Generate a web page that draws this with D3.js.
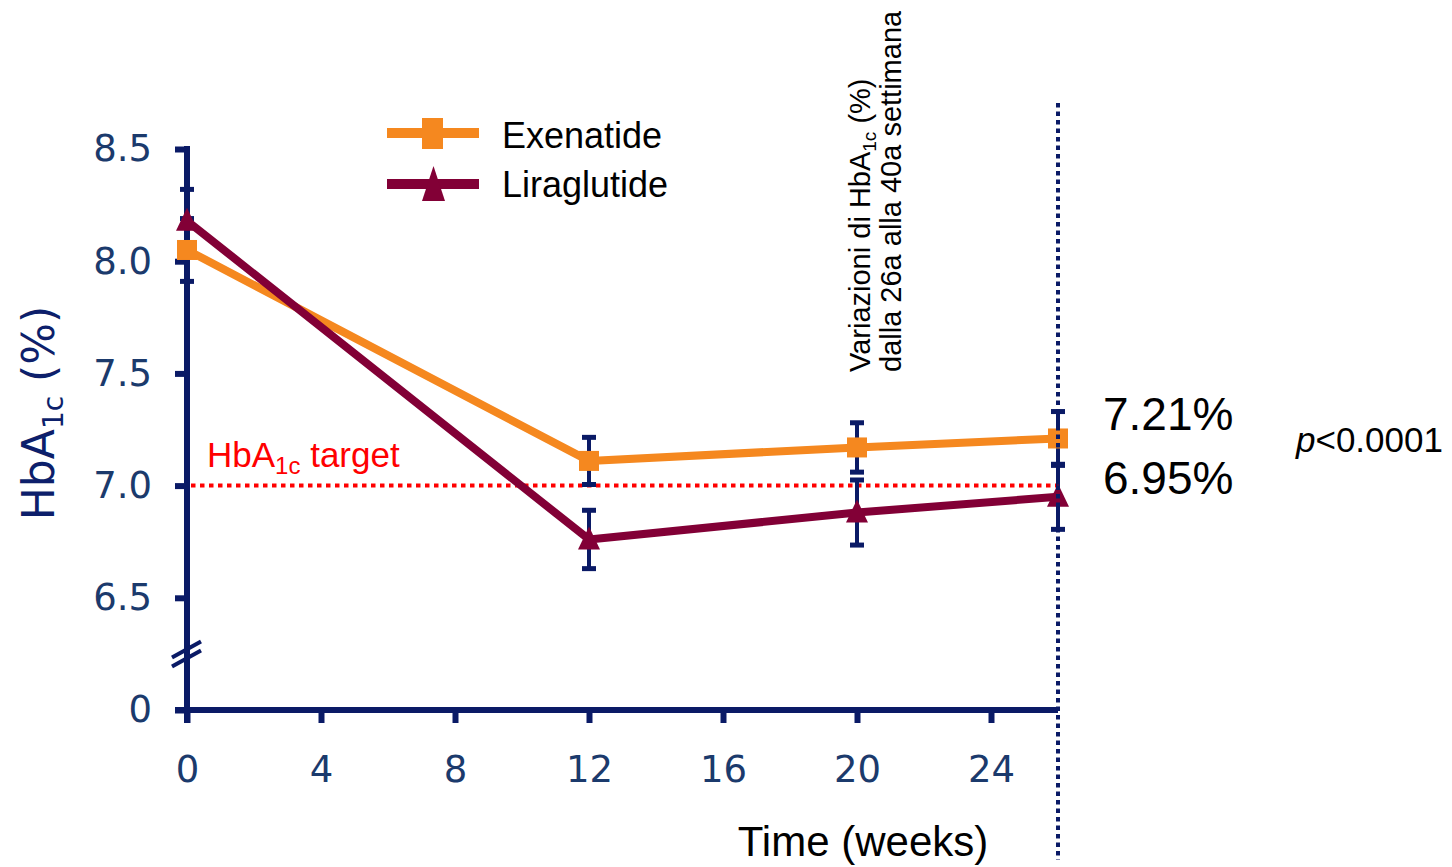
<!DOCTYPE html>
<html>
<head>
<meta charset="utf-8">
<script src="https://cdn.jsdelivr.net/npm/d3@7"></script>
<style>
  html, body { margin: 0; padding: 0; background: #fff; }
  svg { display: block; }
</style>
</head>
<body>
<svg id="chart" width="1452" height="867"></svg>
<script>
// HbA1c over time, exenatide vs liraglutide
const weeks = [0, 12, 20, 26];
const exenatide = [8.05, 7.11, 7.17, 7.21];
const exenatideErr = [0.14, 0.105, 0.11, 0.12];
const liraglutide = [8.18, 6.76, 6.88, 6.95];
const liraglutideErr = [0.14, 0.13, 0.145, 0.145];

const xTicks = [0, 4, 8, 12, 16, 20, 24];
const yTicks = [6.0, 6.5, 7.0, 7.5, 8.0, 8.5];
const yTickLabels = ["0", "6.5", "7.0", "7.5", "8.0", "8.5"];
const targetValue = 7.0;
const seriesNames = ["Exenatide", "Liraglutide"];

const NAVY = "#0a1a66";
const TICK_TEXT = "#1b3a6c";
const ORANGE = "#f5881f";
const MAROON = "#820036";
const RED = "#ff0000";

const svg = d3.select("#chart");

const x = d3.scaleLinear().domain([0, 26]).range([187, 1058]);
const y = d3.scaleLinear().domain([6.0, 8.5]).range([710, 149]);

// ---- axes ----
const yAxis = d3.axisLeft(y)
  .tickValues(yTicks)
  .tickSize(12)
  .tickSizeOuter(0)
  .tickPadding(23)
  .tickFormat((d, i) => yTickLabels[i]);

const gy = svg.append("g").attr("transform", `translate(${x(0)},0)`).call(yAxis);
gy.select(".domain").remove();
gy.selectAll(".tick line").attr("stroke", NAVY).attr("stroke-width", 6);
gy.selectAll(".tick text")
  .attr("fill", TICK_TEXT)
  .style("font-family", "'DejaVu Sans', Verdana, sans-serif")
  .style("font-size", "37px");

const xAxis = d3.axisBottom(x)
  .tickValues(xTicks)
  .tickSize(13)
  .tickSizeOuter(0)
  .tickFormat(d3.format("d"));

const gx = svg.append("g").attr("transform", `translate(0,${y(6.0)})`).call(xAxis);
gx.select(".domain").remove();
gx.selectAll(".tick line").attr("stroke", NAVY).attr("stroke-width", 6);
gx.selectAll(".tick text")
  .attr("y", 72).attr("dy", 0)
  .attr("fill", TICK_TEXT)
  .style("font-family", "'DejaVu Sans', Verdana, sans-serif")
  .style("font-size", "37px");

// axis lines
svg.append("line")
  .attr("x1", x(0)).attr("x2", x(0))
  .attr("y1", y(8.5) - 3).attr("y2", y(6.0) + 13)
  .attr("stroke", NAVY).attr("stroke-width", 6);
svg.append("line")
  .attr("x1", x(0) - 12).attr("x2", x(26))
  .attr("y1", y(6.0)).attr("y2", y(6.0))
  .attr("stroke", NAVY).attr("stroke-width", 6);

// axis break marks between 6.5 and 0
const breakY = (y(6.5) + y(6.0)) / 2;
[-4.5, 4.5].forEach(off => {
  svg.append("line")
    .attr("x1", x(0) - 15).attr("y1", breakY + off + 8)
    .attr("x2", x(0) + 14).attr("y2", breakY + off - 8)
    .attr("stroke", NAVY).attr("stroke-width", 4);
});

// axis titles
const yTitle = svg.append("text")
  .attr("transform", `translate(54,${413}) rotate(-90)`)
  .attr("text-anchor", "middle")
  .attr("fill", "#0d1f6b")
  .style("font-family", "'DejaVu Sans', Verdana, sans-serif")
  .style("font-size", "44px");
yTitle.append("tspan").text("HbA");
yTitle.append("tspan").attr("dy", 9).style("font-size", "28px").text("1c");
yTitle.append("tspan").attr("dy", -9).text(" (%)");

svg.append("text")
  .attr("x", 863).attr("y", 856)
  .attr("text-anchor", "middle")
  .attr("fill", "#000")
  .style("font-family", "'Liberation Sans', Arial, sans-serif")
  .style("font-size", "42px")
  .text("Time (weeks)");

// ---- target line ----
svg.append("line")
  .attr("x1", x(0) + 4).attr("x2", x(26))
  .attr("y1", y(targetValue)).attr("y2", y(targetValue))
  .attr("stroke", RED).attr("stroke-width", 4)
  .attr("stroke-dasharray", "4.5,4.5");

const tgt = svg.append("text")
  .attr("x", 207).attr("y", 467)
  .attr("fill", RED)
  .style("font-family", "'Liberation Sans', Arial, sans-serif")
  .style("font-size", "35px");
tgt.append("tspan").text("HbA");
tgt.append("tspan").attr("dy", 7).style("font-size", "24px").text("1c");
tgt.append("tspan").attr("dy", -7).text(" target");

// ---- error bars ----
function errorBars(vals, errs) {
  const g = svg.append("g");
  weeks.forEach((w, i) => {
    const cx = x(w);
    const top = y(vals[i] + errs[i]);
    const bot = y(vals[i] - errs[i]);
    g.append("line").attr("x1", cx).attr("x2", cx).attr("y1", top).attr("y2", bot)
      .attr("stroke", NAVY).attr("stroke-width", 4);
    [top, bot].forEach(cy => {
      g.append("line").attr("x1", cx - 7).attr("x2", cx + 7).attr("y1", cy).attr("y2", cy)
        .attr("stroke", NAVY).attr("stroke-width", 5);
    });
  });
}
errorBars(exenatide, exenatideErr);
errorBars(liraglutide, liraglutideErr);

// ---- series lines ----
const line = d3.line().x((d, i) => x(weeks[i])).y(d => y(d));

svg.append("path").datum(exenatide)
  .attr("d", line).attr("fill", "none")
  .attr("stroke", ORANGE).attr("stroke-width", 8).attr("stroke-linejoin", "round");
svg.append("path").datum(liraglutide)
  .attr("d", line).attr("fill", "none")
  .attr("stroke", MAROON).attr("stroke-width", 8).attr("stroke-linejoin", "round");

// markers
svg.append("g").selectAll("rect").data(exenatide).join("rect")
  .attr("x", (d, i) => x(weeks[i]) - 10)
  .attr("y", d => y(d) - 10)
  .attr("width", 20).attr("height", 20)
  .attr("fill", ORANGE);

const tri = "M0,-13L11,10L-11,10Z";
svg.append("g").selectAll("path").data(liraglutide).join("path")
  .attr("transform", (d, i) => `translate(${x(weeks[i])},${y(d)})`)
  .attr("d", tri)
  .attr("fill", MAROON);

// ---- week 26 reference line ----
svg.append("line")
  .attr("x1", x(26)).attr("x2", x(26))
  .attr("y1", 103).attr("y2", 860)
  .attr("stroke", NAVY).attr("stroke-width", 4)
  .attr("stroke-dasharray", "4.5,4");

// rotated annotation
const ann1 = svg.append("text")
  .attr("transform", "translate(870,372) rotate(-90)")
  .attr("fill", "#000")
  .style("font-family", "'Liberation Sans', Arial, sans-serif")
  .style("font-size", "29px");
ann1.append("tspan").text("Variazioni di HbA");
ann1.append("tspan").attr("dy", 6).style("font-size", "19px").text("1c");
ann1.append("tspan").attr("dy", -6).text(" (%)");

svg.append("text")
  .attr("transform", "translate(901,372) rotate(-90)")
  .attr("fill", "#000")
  .style("font-family", "'Liberation Sans', Arial, sans-serif")
  .style("font-size", "29px")
  .text("dalla 26a alla 40a settimana");

// end values at week 26
const endVals = [exenatide[3], liraglutide[3]];
[430, 494].forEach((by, i) => {
  svg.append("text")
    .attr("x", 1103).attr("y", by)
    .attr("fill", "#000")
    .style("font-family", "'Liberation Sans', Arial, sans-serif")
    .style("font-size", "46px")
    .text(endVals[i].toFixed(2) + "%");
});

const pText = svg.append("text")
  .attr("x", 1296).attr("y", 452)
  .attr("fill", "#000")
  .style("font-family", "'Liberation Sans', Arial, sans-serif")
  .style("font-size", "35px");
pText.append("tspan").style("font-style", "italic").text("p");
pText.append("tspan").text("<0.0001");

// ---- legend ----
const legend = svg.append("g");
const legRows = [
  { name: seriesNames[0], color: ORANGE, cy: 133, by: 148 },
  { name: seriesNames[1], color: MAROON, cy: 184, by: 197 }
];
legRows.forEach(r => {
  legend.append("line")
    .attr("x1", 387).attr("x2", 479).attr("y1", r.cy).attr("y2", r.cy)
    .attr("stroke", r.color).attr("stroke-width", 10);
  legend.append("text")
    .attr("x", 502).attr("y", r.by)
    .attr("fill", "#000")
    .style("font-family", "'Liberation Sans', Arial, sans-serif")
    .style("font-size", "36px")
    .text(r.name);
});
legend.append("rect")
  .attr("x", 422).attr("y", 118).attr("width", 21).attr("height", 31)
  .attr("fill", ORANGE);
legend.append("path")
  .attr("d", "M433.5,166L445,201L422,201Z")
  .attr("fill", MAROON);
</script>
</body>
</html>
